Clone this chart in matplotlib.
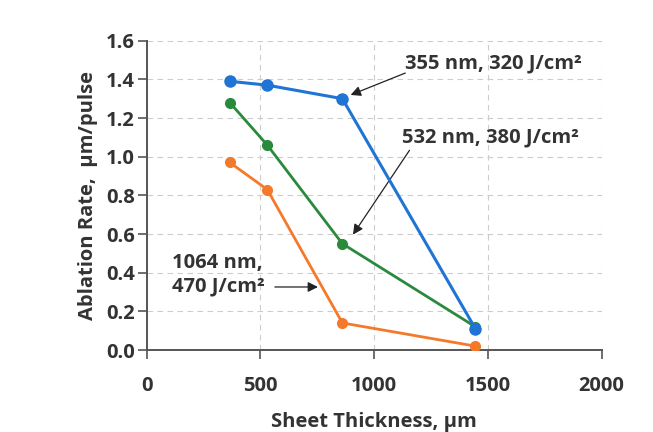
import matplotlib.pyplot as plt

# sheet thickness (um) and ablation rate (um/pulse) per wavelength
thickness = [365, 530, 860, 1445]
rate_355 = [1.39, 1.37, 1.30, 0.11]
rate_532 = [1.28, 1.06, 0.55, 0.12]
rate_1064 = [0.97, 0.83, 0.14, 0.02]

xticks = [0, 500, 1000, 1500, 2000]
yticks = [0.0, 0.2, 0.4, 0.6, 0.8, 1.0, 1.2, 1.4, 1.6]

plt.rcParams['font.family'] = ['Open Sans', 'DejaVu Sans']
txt = '#333333'
fs = 14.5

fig = plt.figure(figsize=(6.53, 4.32), dpi=100)
ax = fig.add_axes([0.2247, 0.1898, 0.6967, 0.716])

ax.plot(thickness, rate_532, color='#2a8a3c', lw=2, marker='o', ms=7, zorder=3)
ax.plot(thickness, rate_1064, color='#f5792a', lw=2, marker='o', ms=7, zorder=3)
ax.plot(thickness, rate_355, color='#1f74d4', lw=2.2, marker='o', ms=8, zorder=4)

ax.set_xlim(0, 2000)
ax.set_ylim(0, 1.6)
ax.set_xticks(xticks)
ax.set_yticks(yticks)
ax.set_yticklabels(['%.1f' % v for v in yticks])
ax.tick_params(labelsize=fs, width=1.2, length=6.5, colors='#555555',
               labelcolor=txt)
for lab in ax.get_xticklabels() + ax.get_yticklabels():
    lab.set_fontweight('bold')
ax.tick_params(axis='x', pad=12)
ax.tick_params(axis='y', pad=2)

ax.grid(True, ls=(0, (5, 4)), color='#cccccc', lw=0.8)
for s in ['top', 'right']:
    ax.spines[s].set_visible(False)
for s in ['left', 'bottom']:
    ax.spines[s].set_color('#555555')
    ax.spines[s].set_linewidth(1.4)

ax.set_xlabel('Sheet Thickness, \u03bcm', fontsize=fs, fontweight='bold',
              color=txt, labelpad=12)
ax.set_ylabel('Ablation Rate,  \u03bcm/pulse', fontsize=fs, fontweight='bold',
              color=txt, labelpad=6)

arrow = dict(arrowstyle='-|>', color='#222222', lw=0.9, mutation_scale=15)

ax.text(1136, 1.48, '355 nm, 320 J/cm\u00b2', fontsize=fs, fontweight='bold',
        color=txt, va='center')
ax.annotate('', xy=(885, 1.314), xytext=(1148, 1.438), arrowprops=arrow)

ax.text(1122, 1.10, '532 nm, 380 J/cm\u00b2', fontsize=fs, fontweight='bold',
        color=txt, va='center')
ax.annotate('', xy=(900, 0.585), xytext=(1162, 1.045), arrowprops=arrow)

ax.text(111, 0.39, '1064 nm,\n470 J/cm\u00b2', fontsize=fs, fontweight='bold',
        color=txt, va='center', linespacing=1.2)
ax.annotate('', xy=(765, 0.326), xytext=(551, 0.326), arrowprops=arrow)

fig.savefig('out.png', dpi=100)
